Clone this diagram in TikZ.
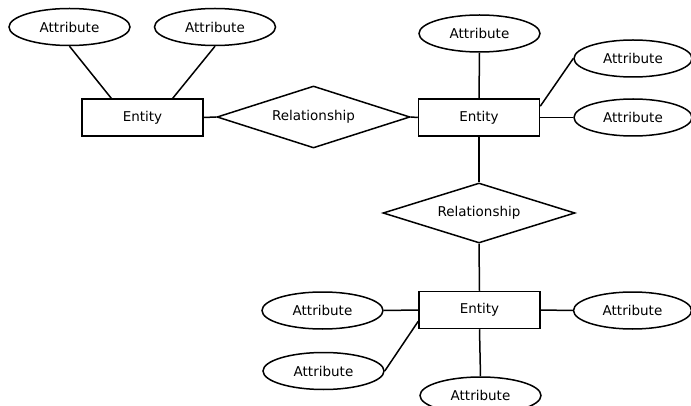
\documentclass[tikz,border=0pt]{standalone}
\usepackage{fontspec}
\setmainfont{DejaVu Sans}
\usetikzlibrary{shapes.geometric}
\begin{document}
\begin{tikzpicture}[x=1pt,y=-1pt,
  every node/.style={font=\fontsize{13.5}{16}\selectfont},
  attr/.style={draw,ellipse,line width=1.5pt,minimum width=121pt,minimum height=37pt,inner sep=0pt},
  ent/.style={draw,rectangle,line width=1.5pt,minimum width=121pt,minimum height=37pt,inner sep=0pt},
  rel/.style={draw,diamond,aspect=3,line width=1.5pt,minimum width=193pt,minimum height=62pt,inner sep=0pt},
  conn/.style={line width=1.5pt}]
\fill[white] (0,0) rectangle (691,406);
\useasboundingbox (0,0) rectangle (691,406);
% entities
\node[ent] (e1) at (142.5,117.5) {Entity};
\node[ent] (e2) at (479,117.5) {Entity};
\node[ent] (e3) at (479.5,310) {Entity};
% relationships
\node[rel] (r1) at (313.5,117) {Relationship};
\node[rel,minimum width=192pt,minimum height=60pt] (r2) at (479,213) {Relationship};
% attributes
\node[attr] (a1) at (69.5,27) {Attribute};
\node[attr] (a2) at (215,27) {Attribute};
\node[attr] (a3) at (479.5,33.5) {Attribute};
\node[attr,minimum width=118pt] (a4) at (633,58.5) {Attribute};
\node[attr,minimum width=118pt] (a5) at (633,117.5) {Attribute};
\node[attr] (a6) at (322.5,310.5) {Attribute};
\node[attr,minimum width=118pt] (a7) at (632.5,310.5) {Attribute};
\node[attr] (a8) at (323.5,371) {Attribute};
\node[attr] (a9) at (480.5,395.5) {Attribute};
% connectors
\draw[conn] (a1.south) -- ([xshift=30pt]e1.north west);
\draw[conn] (a2.south) -- ([xshift=-31pt]e1.north east);
\draw[conn] (e1.east) -- (r1.west);
\draw[conn] (r1.east) -- (e2.west);
\draw[conn] (a3.south) -- (e2.north);
\draw[conn] ([yshift=-8pt]e2.north east) -- (a4.west);
\draw[conn] (e2.east) -- (a5.west);
\draw[conn] (e2.south) -- (r2.north);
\draw[conn] (r2.south) -- (e3.north);
\draw[conn] (a6.east) -- (e3.west);
\draw[conn] (e3.east) -- (a7.west);
\draw[conn] (a8.east) -- ([yshift=8pt]e3.south west);
\draw[conn] (e3.south) -- (a9.north);
\end{tikzpicture}
\end{document}
